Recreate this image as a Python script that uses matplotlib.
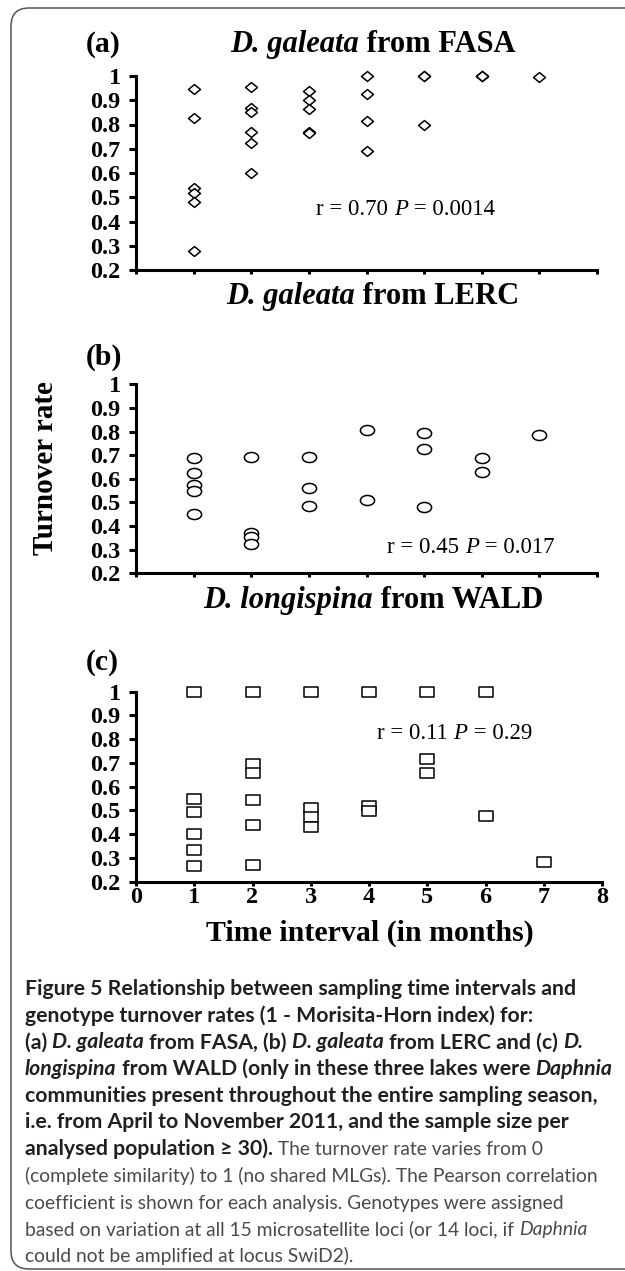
import matplotlib
matplotlib.use("Agg")
import matplotlib.pyplot as plt
from matplotlib.path import Path
from matplotlib.patches import FancyBboxPatch
from matplotlib.transforms import Affine2D, IdentityTransform

W, H = 625, 1271

# ---------------------------------------------------------------------------
# Data (time interval in months vs turnover rate)
# ---------------------------------------------------------------------------
FASA_X = [1, 1, 1, 1, 1, 1, 2, 2, 2, 2, 2, 2, 3, 3, 3, 3, 3,
          4, 4, 4, 4, 5, 5, 5, 6, 6, 6, 7]
FASA_Y = [0.946, 0.826, 0.538, 0.517, 0.481, 0.277,
          0.953, 0.869, 0.850, 0.771, 0.723, 0.600,
          0.939, 0.902, 0.863, 0.768, 0.765,
          1.000, 0.924, 0.815, 0.691,
          1.000, 0.998, 0.800,
          1.000, 0.999, 0.998,
          0.994]

LERC_X = [1, 1, 1, 1, 1, 2, 2, 2, 2, 3, 3, 3, 4, 4, 5, 5, 5, 6, 6, 7]
LERC_Y = [0.687, 0.626, 0.574, 0.548, 0.450,
          0.692, 0.369, 0.355, 0.324,
          0.694, 0.563, 0.485,
          0.808, 0.510,
          0.794, 0.726, 0.482,
          0.687, 0.629,
          0.784]

WALD_X = [1, 1, 1, 1, 1, 1, 2, 2, 2, 2, 2, 2, 3, 3, 3, 3,
          4, 4, 4, 5, 5, 5, 6, 6, 7]
WALD_Y = [1.000, 0.547, 0.492, 0.399, 0.333, 0.267,
          1.000, 0.695, 0.659, 0.544, 0.439, 0.270,
          1.000, 0.512, 0.472, 0.432,
          1.000, 0.519, 0.499,
          1.000, 0.715, 0.659,
          1.000, 0.478,
          0.284]

YTICKS = [0.2, 0.3, 0.4, 0.5, 0.6, 0.7, 0.8, 0.9, 1.0]
YTICK_LABELS = ["0.2", "0.3", "0.4", "0.5", "0.6", "0.7", "0.8", "0.9", "1"]
XTICKS = [0, 1, 2, 3, 4, 5, 6, 7, 8]

PANEL_TITLES = [("D. galeata", " from FASA"),
                ("D. galeata", " from LERC"),
                ("D. longispina", " from WALD")]
PANEL_LETTERS = ["(a)", "(b)", "(c)"]
STATS = [("0.70", "0.0014"), ("0.45", "0.017"), ("0.11", "0.29")]

SERIF = "Liberation Serif"
SANS = "Lato"
INK = "#231f20"
GREY = "#4a4a4c"

plt.rcParams["font.family"] = [SERIF, "DejaVu Serif"]
plt.rcParams["font.weight"] = "bold"


def px(x):
    return x / W


def py(y):
    return 1 - y / H


def text_width(fig, renderer, s, **kw):
    """Advance width of s in pixels (spaces included)."""
    t = fig.text(0, 0, "x" + s + "x", **kw)
    w1 = t.get_window_extent(renderer).width
    t.remove()
    t = fig.text(0, 0, "xx", **kw)
    w2 = t.get_window_extent(renderer).width
    t.remove()
    return w1 - w2


def draw_runs(fig, x, y, runs, align="left"):
    """Draw a line made of differently styled pieces, baseline at pixel y."""
    renderer = fig.canvas.get_renderer()
    widths = [text_width(fig, renderer, s, **kw) for s, kw in runs]
    if align == "center":
        x -= sum(widths) / 2
    for (s, kw), w in zip(runs, widths):
        fig.text(px(x), py(y), s, ha="left", va="baseline", **kw)
        x += w


def setup_axes(ax, show_xlabels):
    ax.set_xlim(0, 8)
    ax.set_ylim(0.2, 1.0)
    for side in ["top", "right"]:
        ax.spines[side].set_visible(False)
    for side in ["left", "bottom"]:
        ax.spines[side].set_linewidth(2.2)
    ax.set_yticks(YTICKS)
    ax.set_yticklabels(YTICK_LABELS)
    ax.set_xticks(XTICKS)
    ax.tick_params(axis="y", direction="out", length=5, width=2.2,
                   labelsize=17.5, pad=6)
    ax.tick_params(axis="x", direction="out", length=3, width=2.2,
                   labelsize=17.5, pad=0.5, labelbottom=show_xlabels)
    ax.patch.set_alpha(0)


# marker shapes: flattened diamond, ellipse, flat rectangle
diamond = Path([(-1, 0), (0, 0.83), (1, 0), (0, -0.83), (-1, 0)],
               [Path.MOVETO, Path.LINETO, Path.LINETO, Path.LINETO, Path.CLOSEPOLY])
ellipse = Affine2D().scale(1, 0.71).transform_path(Path.unit_circle())
rect = Path([(-1, -0.66), (1, -0.66), (1, 0.66), (-1, 0.66), (-1, -0.66)],
            [Path.MOVETO, Path.LINETO, Path.LINETO, Path.LINETO, Path.CLOSEPOLY])

fig = plt.figure(figsize=(W / 100, H / 100), dpi=100)

# rounded frame around figure + caption (runs off the right edge)
frame = FancyBboxPatch((11, 2), 3000, 1261, boxstyle="round,pad=0,rounding_size=18",
                       transform=IdentityTransform(), facecolor="none",
                       edgecolor="#555555", linewidth=1.1, clip_on=False)
fig.add_artist(frame)

# axes rectangles in pixels: left, right, top(y=1), bottom(y=0.2)
boxes = [(136, 597, 76, 270), (136, 597, 384.3, 573.3), (136, 602, 691.7, 881.7)]
series = [(FASA_X, FASA_Y, diamond, 8.6), (LERC_X, LERC_Y, ellipse, 10.2),
          (WALD_X, WALD_Y, rect, 10.6)]

for i, ((l, r, t, b), (xs, ys, mk, ms)) in enumerate(zip(boxes, series)):
    ax = fig.add_axes([px(l), py(b), (r - l) / W, (b - t) / H])
    setup_axes(ax, i == 2)
    ax.plot(xs, ys, linestyle="none", marker=mk, markersize=ms,
            markerfacecolor="white", markeredgecolor="black",
            markeredgewidth=1.1, clip_on=False)

# panel titles and letters (baseline pixel positions)
title_base = [52, 304, 608]
letter_base = [52, 365, 670]
for (sp, rest), letter, tb, lb in zip(PANEL_TITLES, PANEL_LETTERS, title_base, letter_base):
    draw_runs(fig, 373, tb,
              [(sp, dict(fontsize=22, fontweight="bold", fontstyle="italic", family=SERIF)),
               (rest, dict(fontsize=22, fontweight="bold", family=SERIF))],
              align="center")
    fig.text(px(86), py(lb), letter, fontsize=21.5, fontweight="bold",
             family=SERIF, ha="left", va="baseline")

# correlation annotations
stat_pos = [(316, 215), (387, 553), (377, 739)]
for (rv, pv), (sx, sy) in zip(STATS, stat_pos):
    reg = dict(fontsize=16.5, fontweight="normal", family=SERIF)
    ita = dict(fontsize=16.5, fontweight="normal", fontstyle="italic", family=SERIF)
    draw_runs(fig, sx, sy, [(f"r = {rv} ", reg), ("P", ita), (f" = {pv}", reg)])

fig.text(px(46), py(468), "Turnover rate", rotation=90, fontsize=21,
         fontweight="bold", family=SERIF, ha="center", va="center")
fig.text(px(370), py(941), "Time interval (in months)", fontsize=21.5,
         fontweight="bold", family=SERIF, ha="center", va="baseline")

# caption
B = dict(fontsize=15.3, fontweight="bold", family=[SANS, "DejaVu Sans"], color=INK)
BI = dict(B, fontstyle="italic")
R = dict(fontsize=13.9, fontweight="normal", family=[SANS, "DejaVu Sans"], color=GREY)
RI = dict(R, fontstyle="italic")

caption = [
    [("Figure 5 Relationship between sampling time intervals and", B)],
    [("genotype turnover rates (1 - Morisita-Horn index) for:", B)],
    [("(a) ", B), ("D. galeata", BI), (" from FASA, (b) ", B), ("D. galeata", BI),
     (" from LERC and (c) ", B), ("D.", BI)],
    [("longispina", BI), (" from WALD (only in these three lakes were ", B), ("Daphnia", BI)],
    [("communities present throughout the entire sampling season,", B)],
    [("i.e. from April to November 2011, and the sample size per", B)],
    [("analysed population \u2265 30).", B), (" The turnover rate varies from 0", R)],
    [("(complete similarity) to 1 (no shared MLGs). The Pearson correlation", R)],
    [("coefficient is shown for each analysis. Genotypes were assigned", R)],
    [("based on variation at all 15 microsatellite loci (or 14 loci, if ", R), ("Daphnia", RI)],
    [("could not be amplified at locus SwiD2).", R)],
]
for i, line in enumerate(caption):
    draw_runs(fig, 25, 995 + 26.7 * i, line)

fig.savefig("out.png", dpi=100)
